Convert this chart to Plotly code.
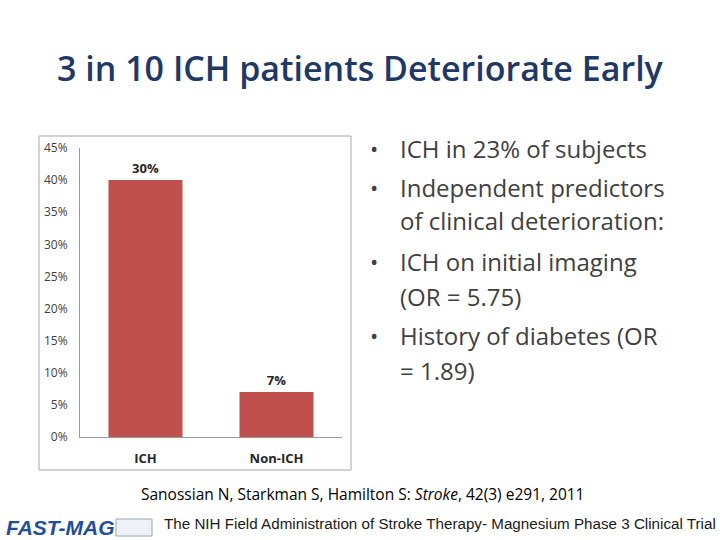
import plotly.graph_objects as go

categories = ["ICH", "Non-ICH"]
bar_values = [40, 7]
bar_labels = ["30%", "7%"]
y_tick_vals = [0, 5, 10, 15, 20, 25, 30, 35, 40, 45]
y_tick_text = ["0%", "5%", "10%", "15%", "20%", "25%", "30%", "35%", "40%", "45%"]

title_text = "3 in 10 ICH patients Deteriorate Early"
bullet_lines = [
    ("•", "ICH in 23% of subjects"),
    ("•", "Independent predictors"),
    ("", "of clinical deterioration:"),
    ("•", "ICH on initial imaging"),
    ("", "(OR = 5.75)"),
    ("•", "History of diabetes (OR"),
    ("", "= 1.89)"),
]
bullet_py = [148, 187, 221, 261, 296, 335, 370]
citation = "Sanossian N, Starkman S, Hamilton S: <i>Stroke</i>, 42(3) e291, 2011"
footer = "The NIH Field Administration of Stroke Therapy- Magnesium Phase 3 Clinical Trial"

W, H = 720, 540
def py(p):
    return 1 - p / H

fig = go.Figure()
fig.add_trace(go.Bar(
    x=categories, y=bar_values, text=bar_labels, textposition="outside",
    marker=dict(color="#C0504D", line=dict(width=0)),
    textfont=dict(family="Open Sans", size=13, color="#262626", weight="bold"),
    cliponaxis=False, width=0.565, hoverinfo="skip",
))

fig.update_layout(
    width=W, height=H, margin=dict(l=0, r=0, t=0, b=0, pad=0),
    paper_bgcolor="white", plot_bgcolor="white", showlegend=False,
    xaxis=dict(domain=[80 / W, 342 / W], showline=True, linecolor="#9a9a9a", linewidth=1,
               tickfont=dict(family="Open Sans", size=13, color="#262626", weight="bold"),
               ticks="", ticklabelstandoff=9, showgrid=False, zeroline=False, automargin=False),
    yaxis=dict(domain=[py(437), py(148)], range=[0, 45], tickvals=y_tick_vals, ticktext=y_tick_text,
               showline=True, linecolor="#9a9a9a", linewidth=1, showgrid=False, zeroline=False,
               ticks="", ticklabelstandoff=9, automargin=False,
               tickfont=dict(family="Open Sans", size=12, color="#404040")),
)

shapes = [dict(type="rect", xref="paper", yref="paper", x0=39 / W, x1=351 / W, y0=py(470), y1=py(136),
               line=dict(color="#a6a6a6", width=1), fillcolor="rgba(0,0,0,0)", layer="below")]
annotations = [dict(text=title_text, xref="paper", yref="paper", x=360 / W, y=py(68), xanchor="center",
                    yanchor="middle", showarrow=False,
                    font=dict(family="Open Sans", size=34, color="#1F3864", weight=600))]
for (b, t), p in zip(bullet_lines, bullet_py):
    if b:
        annotations.append(dict(text=b, xref="paper", yref="paper", x=368 / W, y=py(p), xanchor="left",
                                yanchor="middle", showarrow=False,
                                font=dict(family="Open Sans", size=22, color="#404040")))
    annotations.append(dict(text=t, xref="paper", yref="paper", x=398 / W, y=py(p), xanchor="left",
                            yanchor="middle", showarrow=False,
                            font=dict(family="Open Sans", size=24, color="#404040")))
annotations.append(dict(text=citation, xref="paper", yref="paper", x=362 / W, y=py(494), xanchor="center",
                        yanchor="middle", showarrow=False,
                        font=dict(family="Open Sans", size=15.5, color="#000000")))
annotations.append(dict(text=footer, xref="paper", yref="paper", x=162 / W, y=py(523), xanchor="left",
                        yanchor="middle", showarrow=False,
                        font=dict(family="Liberation Sans Narrow, Liberation Sans", size=15.2, color="#1a1a1a")))
annotations.append(dict(text="<i><b>FAST-MAG</b></i>", xref="paper", yref="paper", x=4 / W, y=py(527),
                        xanchor="left", yanchor="middle", showarrow=False,
                        font=dict(family="Liberation Sans", size=21, color="#1F4E9A")))
shapes.append(dict(type="rect", xref="paper", yref="paper", x0=116 / W, x1=152 / W, y0=py(536), y1=py(519),
                   line=dict(color="#9aa6b8", width=1), fillcolor="#eef1f6"))
fig.update_layout(shapes=shapes, annotations=annotations)
fig.write_html("out.html", config={"displayModeBar": False},
               post_script="document.body.style.margin='0';document.body.style.overflow='hidden';")
